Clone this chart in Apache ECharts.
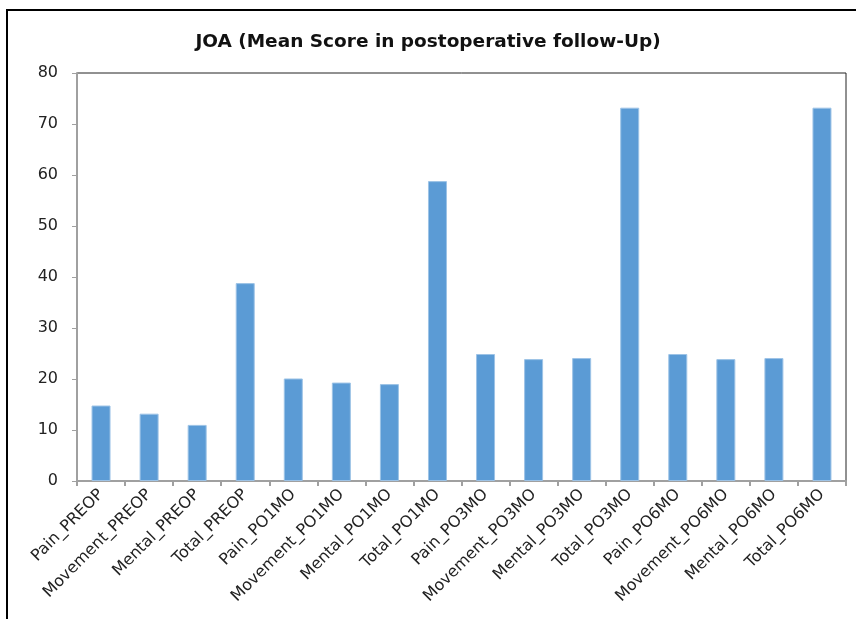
<!DOCTYPE html>
<html>
<head>
<meta charset="utf-8">
<script src="https://cdn.jsdelivr.net/npm/echarts@6/dist/echarts.min.js"></script>
<style>
  html, body { margin: 0; padding: 0; background: #fff; }
  #chart { width: 856px; height: 619px; }
</style>
</head>
<body>
<div id="chart"></div>
<script>
// categories (x axis)
const categories = [
  'Pain_PREOP', 'Movement_PREOP', 'Mental_PREOP', 'Total_PREOP',
  'Pain_PO1MO', 'Movement_PO1MO', 'Mental_PO1MO', 'Total_PO1MO',
  'Pain_PO3MO', 'Movement_PO3MO', 'Mental_PO3MO', 'Total_PO3MO',
  'Pain_PO6MO', 'Movement_PO6MO', 'Mental_PO6MO', 'Total_PO6MO'
]
// mean JOA scores
const meanScores = [
  14.8, 13.2, 11.0, 38.8,
  20.1, 19.3, 19.0, 58.8,
  24.9, 23.9, 24.1, 73.2,
  24.9, 23.9, 24.1, 73.2
]
const titleText = 'JOA (Mean Score in postoperative follow-Up)'

const FONT = 'DejaVu Sans'
const chart = echarts.init(document.getElementById('chart'), null, { renderer: 'canvas' })

const option = {
  animation: false,
  backgroundColor: '#fff',
  title: {
    text: titleText,
    left: 'center',
    top: 28,
    textStyle: { fontFamily: FONT, fontSize: 18.5, fontWeight: 'bold', color: '#111' }
  },
  // outer frame of the chart (partly cropped on the right and bottom)
  graphic: [{
    type: 'rect',
    shape: { x: 7, y: 10, width: 900, height: 700 },
    style: { fill: 'none', stroke: '#000', lineWidth: 2 },
    silent: true
  }],
  grid: {
    left: 77, right: 10, top: 73, bottom: 138,
    show: true,
    borderColor: '#222',
    borderWidth: 1
  },
  xAxis: {
    type: 'category',
    data: categories,
    axisLine: { lineStyle: { color: '#a0a0a0', width: 2 } },
    axisTick: { show: true, length: 5, lineStyle: { color: '#a0a0a0', width: 2 } },
    axisLabel: {
      rotate: 45,
      interval: 0,
      margin: 11,
      fontFamily: FONT,
      fontSize: 16,
      color: '#222'
    }
  },
  yAxis: {
    type: 'value',
    min: 0,
    max: 80,
    interval: 10,
    splitLine: { show: false },
    axisLine: { show: true, lineStyle: { color: '#a0a0a0', width: 2 } },
    axisTick: { show: true, length: 5, lineStyle: { color: '#a0a0a0', width: 1 } },
    axisLabel: {
      margin: 19,
      fontFamily: FONT,
      fontSize: 16,
      color: '#222'
    }
  },
  series: [{
    type: 'bar',
    data: meanScores,
    barWidth: 19,
    itemStyle: { color: '#5b9bd5', borderColor: '#9dc3e6', borderWidth: 1 }
  }]
}

chart.setOption(option)
</script>
</body>
</html>
